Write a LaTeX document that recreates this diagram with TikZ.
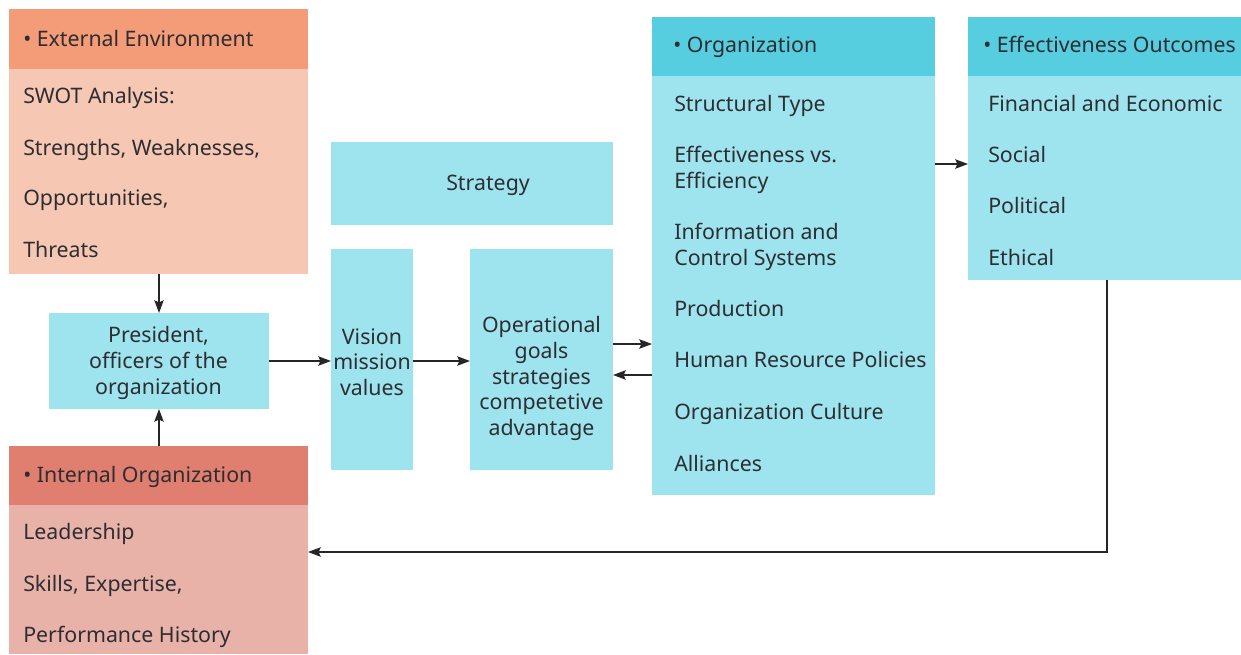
\documentclass[tikz,border=0pt]{standalone}
\usepackage{fontspec}
\setmainfont{Noto Sans}
\usetikzlibrary{arrows.meta}
\definecolor{extH}{RGB}{244,155,120}
\definecolor{extB}{RGB}{246,199,178}
\definecolor{intH}{RGB}{224,126,111}
\definecolor{intB}{RGB}{233,178,168}
\definecolor{orgH}{RGB}{86,206,224}
\definecolor{orgB}{RGB}{158,228,238}
\definecolor{txt}{RGB}{45,45,50}
\begin{document}
\begin{tikzpicture}[x=0.75pt,y=-0.75pt,
  box/.style={anchor=north west, inner sep=0pt, outer sep=0pt},
  lbl/.style={anchor=base west, inner sep=0pt, text=txt, font=\fontsize{16}{19.5}\selectfont},
  ctr/.style={align=center, inner sep=0pt, text=txt, font=\fontsize{16}{19.2}\selectfont},
  arr/.style={draw=black!85, line width=1.1pt, -{Stealth[length=9.5pt,width=7pt,inset=1.5pt]}}
]
\useasboundingbox (0,0) rectangle (1241,654);

% External environment
\node[box, fill=extB, minimum width=299*0.75pt, minimum height=265*0.75pt] (ext) at (9,9) {};
\node[box, fill=extH, minimum width=299*0.75pt, minimum height=60*0.75pt] (extH) at (9,9) {};
\node[lbl] (e0) at (23,46) {• External Environment};
\node[lbl] (e1) at (23,103) {SWOT Analysis:};
\node[lbl] (e2) at (23,155) {Strengths, Weaknesses,};
\node[lbl] (e3) at (23,205) {Opportunities,};
\node[lbl] (e4) at (23,257) {Threats};

% Internal organization
\node[box, fill=intB, minimum width=299*0.75pt, minimum height=208*0.75pt] (int) at (9,446) {};
\node[box, fill=intH, minimum width=299*0.75pt, minimum height=59*0.75pt] (intH) at (9,446) {};
\node[lbl] (i0) at (23,482) {• Internal Organization};
\node[lbl] (i1) at (23,539) {Leadership};
\node[lbl] (i2) at (23,591) {Skills, Expertise,};
\node[lbl] (i3) at (23,642) {Performance History};

% President
\node[box, fill=orgB, minimum width=220*0.75pt, minimum height=96*0.75pt] (pres) at (49,313) {};
\node[ctr] (prest) at (158.5,363) {President,\\officers of the\\organization};

% Strategy
\node[box, fill=orgB, minimum width=282*0.75pt, minimum height=83*0.75pt] (strat) at (331,142) {};
\node[lbl, anchor=base] (stratt) at (488,190) {Strategy};

% Vision
\node[box, fill=orgB, minimum width=82*0.75pt, minimum height=221*0.75pt] (vis) at (331,249) {};
\node[ctr] (vist) at (372,362) {Vision\\mission\\values};

% Operational
\node[box, fill=orgB, minimum width=143*0.75pt, minimum height=221*0.75pt] (op) at (470,249) {};
\node[ctr] (opt) at (541.5,378.5) {Operational\\goals\\strategies\\competetive\\advantage};

% Organization
\node[box, fill=orgB, minimum width=283*0.75pt, minimum height=478*0.75pt] (org) at (652,17) {};
\node[box, fill=orgH, minimum width=283*0.75pt, minimum height=59*0.75pt] (orgH) at (652,17) {};
\node[lbl] (o0) at (673,52) {• Organization};
\node[lbl] (o1) at (674,111) {Structural Type};
\node[lbl] (o2) at (674,162) {Effectiveness vs.};
\node[lbl] (o3) at (674,188) {Efficiency};
\node[lbl] (o4) at (674,239) {Information and};
\node[lbl] (o5) at (674,265) {Control Systems};
\node[lbl] (o6) at (674,316) {Production};
\node[lbl] (o7) at (674,367) {Human Resource Policies};
\node[lbl] (o8) at (674,419) {Organization Culture};
\node[lbl] (o9) at (674,471) {Alliances};

% Effectiveness outcomes
\node[box, fill=orgB, minimum width=273*0.75pt, minimum height=263*0.75pt] (eff) at (968,17) {};
\node[box, fill=orgH, minimum width=273*0.75pt, minimum height=59*0.75pt] (effH) at (968,17) {};
\node[lbl] (f0) at (983,52) {• Effectiveness Outcomes};
\node[lbl] (f1) at (988,111) {Financial and Economic};
\node[lbl] (f2) at (988,162) {Social};
\node[lbl] (f3) at (988,213) {Political};
\node[lbl] (f4) at (988,265) {Ethical};

% helper coordinates
\coordinate (y344) at (0,344);
\coordinate (y375) at (0,375);
\coordinate (y164) at (0,164);
\coordinate (fb) at (1107,552);

% connectors
\draw[arr] (ext.south -| pres.north) -- (pres.north);
\draw[arr] (int.north -| pres.south) -- (pres.south);
\draw[arr] (pres.east) -- (pres.east -| vis.west);
\draw[arr] (vis.east |- pres.east) -- (op.west |- pres.east);
\draw[arr] (op.east |- y344) -- (org.west |- y344);
\draw[arr] (org.west |- y375) -- (op.east |- y375);
\draw[arr] (org.east |- y164) -- (eff.west |- y164);
\draw[arr] (eff.south -| fb) -- (fb) -- (int.east |- fb);
\end{tikzpicture}
\end{document}
